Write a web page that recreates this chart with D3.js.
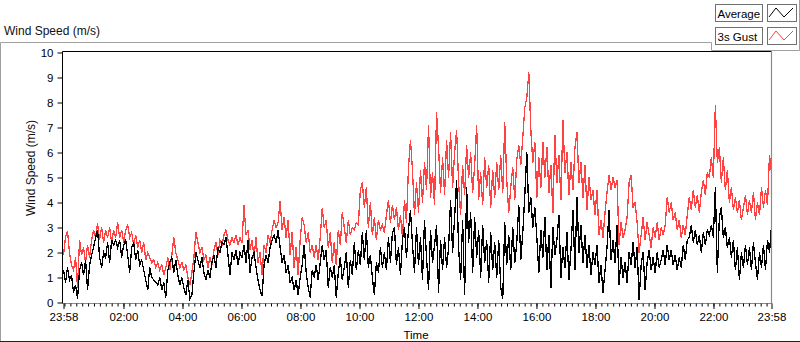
<!DOCTYPE html>
<html>
<head>
<meta charset="utf-8">
<script src="https://cdn.jsdelivr.net/npm/d3@7"></script>
<style>
  html, body { margin: 0; padding: 0; background: #fff; }
  svg { display: block; font-family: "Liberation Sans", Arial, sans-serif; }
</style>
</head>
<body>
<svg id="chart" width="800" height="342"></svg>
<script>
// ---------------- DATA ----------------
const chartTitle = "Wind Speed (m/s)";
const yAxisTitle = "Wind Speed (m/s)";
const xAxisTitle = "Time";
const seriesNames = ["Average", "3s Gust"];
const startStamp = "2000-01-01T23:58:00";
const endStamp = "2000-01-02T23:58:00";
const xTickLabels = ["23:58", "02:00", "04:00", "06:00", "08:00", "10:00", "12:00",
                     "14:00", "16:00", "18:00", "20:00", "22:00", "23:58"];
const yTicks = [0, 1, 2, 3, 4, 5, 6, 7, 8, 9, 10];

// Average wind speed (m/s), evenly spaced samples over the 24 h window
const avgSpeed = [
  1.3, 0.8, 1.4, 0.9, 1.1,  0.4, 0.7, 0.15, 1.3, 1.6,  1.1, 1.7, 0.5, 1.5, 1.9,
  2.2, 2.6, 2.9, 1.8, 1.4,  2.0, 1.8, 2.4, 1.6, 2.5,  2.3, 2.5, 2.2, 2.5, 1.8,
  2.3, 2.5, 1.9, 1.2, 2.2,  2.4, 1.7, 2.1, 1.5, 1.7,  1.3, 0.9, 0.5, 1.4, 1.0,
  0.9, 0.8, 0.7, 1.0, 0.5,  0.8, 0.2, 1.3, 1.6, 1.8,  1.2, 1.7, 1.1, 0.7, 1.0,
  0.6, 0.3, 0.9, 0.15, 0.3, 1.2, 2.0, 1.7, 1.4, 1.8,  1.2, 0.9, 1.3, 1.0, 1.6,
  1.9, 1.4, 2.2, 2.0, 2.4,  2.3, 2.6, 1.9, 1.1, 2.0,  1.7, 2.1, 1.5, 2.0, 1.8,
  2.3, 1.6, 2.5, 1.2, 1.8,  2.0, 1.4, 0.9, 0.5, 0.25, 1.5, 1.9, 1.6, 2.2, 2.5,
  2.7, 2.4, 2.9, 2.2, 1.6,  1.9, 1.2, 1.5, 0.8, 1.0,  0.5, 0.9, 0.3, 1.0, 1.5,
  2.3, 1.2, 0.6, 0.2, 1.3,  1.0, 1.5, 0.9, 1.6, 2.3,  1.7, 2.1, 0.6, 1.4, 1.0,
  1.5, 0.2, 1.2, 1.8, 0.9,  1.4, 2.0, 0.6, 1.7, 1.1,  2.4, 1.3, 2.1, 1.5, 2.8,
  1.7, 2.9, 1.4, 1.9, 1.0,  0.3, 1.6, 1.2, 2.2, 1.4,  2.0, 1.3, 2.6, 1.6, 2.8,
  3.0, 1.5, 2.2, 1.1, 2.5,  3.0, 1.8, 2.9, 3.7, 2.3,  1.2, 3.0, 1.5, 2.6, 0.9,
  3.3, 1.8, 0.5, 2.9, 1.6,  2.3, 3.1, 0.4, 2.5, 1.3,  2.6, 1.4, 2.2, 4.1, 2.0,
  3.4, 4.9, 2.2, 0.9, 3.3,  0.3, 4.6, 2.4, 3.6, 1.2,  3.4, 1.8, 2.9, 1.0, 3.1,
  1.6, 2.5, 0.8, 2.8, 1.3,  2.4, 1.0, 2.5, 0.6, 0.15, 3.2, 1.5, 2.7, 1.3, 3.0,
  1.6, 2.4, 3.9, 1.7, 2.8,  4.3, 6.0, 3.6, 4.2, 3.0,  3.8, 2.6, 1.2, 2.9, 1.8,
  3.4, 1.3, 2.7, 0.6, 3.0,  1.9, 2.5, 3.5, 1.0, 2.2,  1.4, 2.8, 0.9, 2.1, 3.7,
  1.3, 4.2, 2.0, 3.1, 1.6,  2.7, 1.4, 2.3, 1.1, 2.0,  1.5, 2.3, 0.8, 1.5, 0.4,
  1.3, 2.2, 3.7, 1.7, 2.5,  1.6, 3.1, 0.7, 1.8, 1.0,  1.6, 0.8, 2.0, 1.5, 2.4,
  1.4, 2.2, 0.1, 1.5, 2.0,  0.5, 1.6, 2.1, 1.3, 1.8,  1.2, 2.0, 1.4, 1.7, 2.1,
  1.5, 2.3, 1.7, 2.1, 1.5,  1.9, 1.3, 1.8, 1.4, 2.3,  1.7, 2.5, 2.6, 3.1, 2.4,
  2.9, 2.3, 2.7, 2.0, 2.8,  2.3, 2.9, 2.7, 3.1, 2.6,  4.6, 1.2, 3.4, 3.8, 2.6,
  3.0, 2.2, 2.6, 1.8, 2.5,  1.3, 2.2, 0.9, 2.0, 1.4,  2.3, 1.5, 2.2, 1.3, 2.4,
  1.6, 0.9, 2.0, 1.4, 2.3,  1.3, 2.5, 2.0, 3.1
];

// 3 s gust wind speed (m/s), same sampling
const gustSpeed = [
  1.9, 2.6, 2.85, 2.0, 1.5, 1.3, 1.8, 0.6, 2.5, 1.9,  2.2, 1.6, 2.3, 1.8, 2.5,
  2.9, 2.6, 3.16, 2.5, 3.0, 2.4, 2.9, 2.6, 3.0, 2.4,  2.9, 2.6, 3.2, 2.6, 2.9,
  2.4, 2.9, 3.1, 2.6, 2.8,  2.3, 2.7, 2.2, 2.5, 2.0,  2.4, 1.7, 2.0, 1.8, 1.6,
  1.7, 1.4, 1.6, 1.3, 1.5,  1.1, 1.4, 1.8, 1.3, 1.9,  2.6, 2.0, 1.7, 1.4, 1.6,
  1.3, 1.5, 1.0, 0.7, 1.2,  1.8, 2.8, 2.4, 2.0, 2.2,  1.7, 1.9, 1.4, 1.8, 1.5,
  2.1, 2.4, 1.9, 2.5, 2.3,  2.7, 2.9, 2.5, 2.3, 2.6,  2.4, 2.7, 2.3, 2.6, 2.4,
  3.9, 2.7, 2.9, 2.1, 2.5,  1.8, 2.6, 1.6, 2.0, 1.1,  2.3, 2.0, 2.7, 2.4, 2.9,
  3.3, 3.0, 3.2, 4.05, 2.9, 3.4, 2.6, 3.3, 1.9, 2.8,  1.4, 2.2, 1.1, 2.5, 3.4,
  3.1, 2.4, 2.8, 2.0, 2.3,  1.8, 2.3, 1.7, 2.6, 3.77, 3.0, 3.3, 2.2, 2.8, 1.6,
  2.4, 1.5, 2.9, 2.3, 3.6,  3.0, 2.4, 3.3, 2.7, 3.0,  2.9, 3.2, 3.1, 4.5, 4.8,
  3.8, 4.6, 3.0, 4.0, 2.7,  3.4, 2.5, 3.3, 2.9, 3.1,  2.8, 3.5, 4.1, 3.2, 3.9,
  3.3, 3.8, 2.9, 3.5, 2.6,  4.1, 3.2, 5.4, 6.5, 5.3,  3.5, 4.8, 3.6, 5.3, 4.0,
  5.6, 4.5, 7.1, 4.2, 5.2,  3.9, 7.6, 6.2, 4.4, 5.8,  4.3, 6.5, 5.0, 6.8, 4.6,
  6.0, 6.9, 4.8, 3.5, 5.5,  4.3, 6.3, 5.0, 6.0, 4.4,  5.5, 7.1, 4.1, 5.2, 3.9,
  5.8, 4.6, 5.5, 3.8, 5.3,  4.2, 5.6, 4.5, 5.9, 4.4,  7.2, 4.9, 3.6, 4.6, 5.4,
  4.1, 5.7, 6.3, 5.5, 6.6,  7.8, 8.2, 9.2, 6.9, 5.6,  6.4, 4.2, 5.8, 4.6, 6.4,
  5.0, 6.2, 4.4, 5.5, 3.6,  6.7, 4.8, 5.9, 4.1, 7.3,  5.2, 6.0, 4.3, 5.6, 4.5,
  6.2, 6.8, 4.8, 5.6, 4.2,  5.5, 3.7, 5.0, 4.1, 4.5,  3.5, 4.5, 2.7, 3.3, 2.6,
  3.6, 4.4, 5.1, 4.5, 5.0,  4.6, 4.9, 2.3, 3.2, 2.6,  2.9, 3.4, 4.8, 5.1, 3.8,
  4.0, 3.2, 2.0, 2.7, 3.4,  2.5, 3.2, 2.7, 2.2, 3.0,  2.6, 3.2, 2.5, 3.0, 2.7,
  3.1, 4.2, 3.6, 4.0, 3.3,  3.6, 2.9, 3.3, 2.6, 3.1,  2.7, 3.5, 4.2, 3.7, 4.5,
  3.8, 4.3, 3.6, 4.4, 4.9,  4.3, 5.2, 5.0, 5.8, 5.0,  7.9, 5.6, 6.2, 4.8, 5.8,
  4.5, 5.3, 4.0, 4.6, 3.7,  4.2, 3.6, 4.1, 3.3, 3.8,  4.3, 3.5, 4.1, 3.6, 4.4,
  3.3, 4.0, 3.5, 4.6, 3.8,  4.5, 3.9, 5.9, 5.2
];

// ---------------- DRAWING ----------------
const svg = d3.select("#chart");
const plot = { left: 62.5, right: 771.5, top: 51.5, bottom: 303.5 };

const t0 = new Date(startStamp), t1 = new Date(endStamp);
const x = d3.scaleTime().domain([t0, t1]).range([63.5, 771.5]);
const y = d3.scaleLinear().domain([0, 10]).range([302.5, 52.5]);

const stepMs = (t1 - t0) / (avgSpeed.length - 1);
const timeAt = i => new Date(t0.getTime() + i * stepMs);

// outer frame
const gray = "#a0a0a0";
svg.append("path")
  .attr("d", `M0.5,342 V42.5 H711.5 V50.5 H799.5 V0`)
  .attr("fill", "none").attr("stroke", gray);
svg.append("line").attr("x1", 0).attr("x2", 800).attr("y1", 341.5).attr("y2", 341.5)
  .attr("stroke", "#222");

// chart title
svg.append("text").attr("x", 4).attr("y", 35)
  .attr("font-size", 12).attr("fill", "#111").text(chartTitle);

// legend
const legendColors = ["#000000", "#ff4242"];
seriesNames.forEach((name, i) => {
  const y0 = 4.5 + i * 23;
  svg.append("rect").attr("x", 715.5).attr("y", y0).attr("width", 47).attr("height", 17)
    .attr("fill", "#fff").attr("stroke", "#707070");
  svg.append("text").attr("x", 717.5).attr("y", y0 + 13)
    .attr("font-size", 11.5).attr("fill", "#000").text(name);
  svg.append("rect").attr("x", 767.5).attr("y", y0).attr("width", 29).attr("height", 17)
    .attr("fill", "#fff").attr("stroke", "#707070");
  svg.append("path")
    .attr("d", `M769,${y0 + 12.5} L776,${y0 + 3.5} L784,${y0 + 12.5} L793,${y0 + 3.5}`)
    .attr("fill", "none").attr("stroke", legendColors[i]).attr("stroke-width", 1);
});

// plot area background
svg.append("rect").attr("x", plot.left).attr("y", plot.top)
  .attr("width", plot.right - plot.left).attr("height", plot.bottom - plot.top)
  .attr("fill", "#fff");

// series lines
const line = d3.line().x((d, i) => x(timeAt(i))).y(d => y(d));
svg.append("defs").append("clipPath").attr("id", "clip")
  .append("rect").attr("x", plot.left).attr("y", plot.top)
  .attr("width", plot.right - plot.left).attr("height", plot.bottom - plot.top);
const g = svg.append("g").attr("clip-path", "url(#clip)");
g.append("path").datum(gustSpeed).attr("d", line)
  .attr("fill", "none").attr("stroke", legendColors[1]).attr("stroke-width", 1.3)
  .attr("shape-rendering", "crispEdges");
g.append("path").datum(avgSpeed).attr("d", line)
  .attr("fill", "none").attr("stroke", legendColors[0]).attr("stroke-width", 1.3)
  .attr("shape-rendering", "crispEdges");

// plot frame: dark top/left, gray bottom/right
svg.append("path").attr("d", `M${plot.left},${plot.bottom} V${plot.top} H${plot.right}`)
  .attr("fill", "none").attr("stroke", "#000");
svg.append("path").attr("d", `M${plot.left},${plot.bottom} H${plot.right} V${plot.top}`)
  .attr("fill", "none").attr("stroke", "#8a8a8a").attr("stroke-width", 1.2);

// y axis
const yAxis = d3.axisLeft(y).tickValues(yTicks).tickSize(5).tickPadding(4)
  .tickFormat(d3.format("d"));
const gy = svg.append("g").attr("transform", `translate(${plot.left},0)`).call(yAxis);
gy.select(".domain").remove();
gy.selectAll("text").attr("font-size", 11.5).attr("fill", "#000")
  .attr("font-family", "Liberation Sans, Arial, sans-serif");
gy.selectAll("line").attr("stroke", "#000");

// x axis – major ticks
const majorDates = xTickLabels.map((lab, i) => {
  if (i === 0) return t0;
  if (i === xTickLabels.length - 1) return t1;
  const [hh, mm] = lab.split(":").map(Number);
  return new Date(2000, 0, 2, hh, mm);
});
const xAxis = d3.axisBottom(x).tickValues(majorDates).tickSize(5.5).tickPadding(3.5)
  .tickFormat((d, i) => xTickLabels[i]);
const gx = svg.append("g").attr("transform", `translate(0,${plot.bottom})`).call(xAxis);
gx.select(".domain").remove();
gx.selectAll("text").attr("font-size", 11.5).attr("fill", "#000")
  .attr("font-family", "Liberation Sans, Arial, sans-serif");
gx.selectAll("line").attr("stroke", "#000");

// x axis – minor ticks every 12 minutes
const minorDates = d3.timeMinute.every(12).range(new Date(2000, 0, 2, 0, 0), t1);
const xMinor = d3.axisBottom(x).tickValues(minorDates).tickSize(3).tickFormat("");
const gxm = svg.append("g").attr("transform", `translate(0,${plot.bottom})`).call(xMinor);
gxm.select(".domain").remove();
gxm.selectAll("line").attr("stroke", "#000");

// axis titles
svg.append("text").attr("x", 416).attr("y", 338.5).attr("text-anchor", "middle")
  .attr("font-size", 11.5).attr("fill", "#000").text(xAxisTitle);
svg.append("text").attr("transform", "translate(35,168) rotate(-90)")
  .attr("text-anchor", "middle").attr("font-size", 12).attr("fill", "#111")
  .text(yAxisTitle);
</script>
</body>
</html>
